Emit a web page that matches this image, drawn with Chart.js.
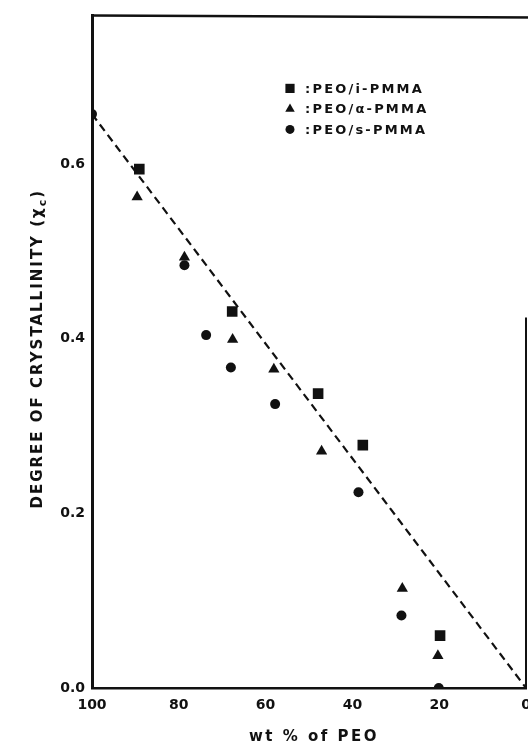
<!DOCTYPE html>
<html>
<head>
<meta charset="utf-8">
<script src="https://cdn.jsdelivr.net/npm/chart.js@4.4.1/dist/chart.umd.min.js"></script>
<style>
  html, body { margin: 0; padding: 0; background: #fff; overflow: hidden; }
  #wrap { position: relative; width: 560px; height: 744px; }
</style>
</head>
<body>
<div id="wrap"><canvas id="crystChart"></canvas></div>
<script>
// values (x = wt % of PEO, y = degree of crystallinity)
const isoX = [89.1, 67.7, 47.9, 37.6, 19.8];
const isoY = [0.594, 0.431, 0.337, 0.278, 0.060];
const ataX = [89.6, 78.7, 67.6, 58.1, 47.1, 28.5, 20.3];
const ataY = [0.562, 0.493, 0.399, 0.365, 0.271, 0.114, 0.037];
const synX = [100, 78.7, 73.7, 68.0, 57.8, 38.6, 28.7, 20.1];
const synY = [0.657, 0.484, 0.404, 0.367, 0.325, 0.224, 0.083, 0.0];
const lineX = [100, 0];
const lineY = [0.657, 0];
const xTicks = [100, 80, 60, 40, 20, 0];
const yTicks = [0, 0.2, 0.4, 0.6];
const seriesNames = ['PEO/i-PMMA', 'PEO/α-PMMA', 'PEO/s-PMMA'];

const FONT = "'DejaVu Sans', 'Liberation Sans', sans-serif";
const INK = '#111';

function toPoints(xs, ys) {
    return xs.map((x, i) => ({ x: x, y: ys[i] }));
}

// frame, legend and axis titles drawn on top of the chart
const extras = {
    id: 'extras',
    afterDraw(chart) {
        const ctx = chart.ctx;
        const area = chart.chartArea;
        ctx.save();
        ctx.strokeStyle = INK;
        ctx.fillStyle = INK;

        // top border and the right border (only its lower part shows in the scan)
        ctx.lineWidth = 2.5;
        ctx.beginPath();
        ctx.moveTo(area.left, area.top);
        ctx.lineTo(area.right + 10, area.top + 2);
        ctx.stroke();
        ctx.lineWidth = 2;
        ctx.beginPath();
        ctx.moveTo(area.right, area.top + 302);
        ctx.lineTo(area.right, area.bottom);
        ctx.stroke();

        // legend
        const styles = ['rect', 'triangle', 'circle'];
        const radii = [6.5, 5.5, 4.5];
        ctx.font = 'bold 13px ' + FONT;
        ctx.letterSpacing = '2.2px';
        ctx.textBaseline = 'middle';
        ctx.textAlign = 'left';
        seriesNames.forEach((name, i) => {
            const ly = area.top + 73 + i * 20.5;
            Chart.helpers.drawPoint(ctx, { pointStyle: styles[i], radius: radii[i], rotation: 0, borderWidth: 0 }, area.left + 198, ly);
            ctx.fillStyle = INK;
            ctx.fillText(':' + name, area.left + 213, ly + 1);
        });

        // x title
        ctx.font = 'bold 15px ' + FONT;
        ctx.letterSpacing = '2.5px';
        ctx.textAlign = 'center';
        ctx.fillText('wt % of PEO', (area.left + area.right) / 2 + 5, 737);

        // y title with subscript c
        ctx.translate(38, (area.top + area.bottom) / 2 - 3);
        ctx.rotate(-Math.PI / 2);
        ctx.textAlign = 'left';
        ctx.font = 'bold 15px ' + FONT;
        ctx.letterSpacing = '2px';
        const main = 'DEGREE OF CRYSTALLINITY (χ';
        const wMain = ctx.measureText(main).width;
        ctx.font = 'bold 11px ' + FONT;
        const wSub = ctx.measureText('c').width;
        ctx.font = 'bold 15px ' + FONT;
        const wEnd = ctx.measureText(')').width;
        let sx = -(wMain + wSub + wEnd) / 2;
        ctx.fillText(main, sx, 0);
        sx += wMain;
        ctx.font = 'bold 11px ' + FONT;
        ctx.fillText('c', sx, 5);
        sx += wSub;
        ctx.font = 'bold 15px ' + FONT;
        ctx.fillText(')', sx, 0);
        ctx.restore();
    }
};

const ctx = document.getElementById('crystChart').getContext('2d');
new Chart(ctx, {
    type: 'scatter',
    data: {
        datasets: [
            {
                label: 'fit',
                data: toPoints(lineX, lineY),
                showLine: true,
                borderColor: INK,
                borderWidth: 2.2,
                borderDash: [8, 5],
                pointRadius: 0
            },
            {
                label: seriesNames[0],
                data: toPoints(isoX, isoY),
                pointStyle: 'rect',
                pointRadius: 7.5,
                backgroundColor: INK,
                borderWidth: 0
            },
            {
                label: seriesNames[1],
                data: toPoints(ataX, ataY),
                pointStyle: 'triangle',
                pointRadius: 6.5,
                backgroundColor: INK,
                borderWidth: 0
            },
            {
                label: seriesNames[2],
                data: toPoints(synX, synY),
                pointStyle: 'circle',
                pointRadius: 5,
                backgroundColor: INK,
                borderWidth: 0
            }
        ]
    },
    options: {
        responsive: true,
        maintainAspectRatio: false,
        animation: false,
        layout: { padding: { top: 13, right: 34, left: 0, bottom: 0 } },
        plugins: {
            legend: { display: false },
            tooltip: { enabled: false }
        },
        scales: {
            x: {
                type: 'linear',
                reverse: true,
                min: 0,
                max: 100,
                afterBuildTicks: scale => { scale.ticks = xTicks.map(v => ({ value: v })); },
                afterFit: scale => { scale.height = 56; },
                grid: { display: false, drawTicks: false },
                border: { display: true, color: INK, width: 2.5 },
                ticks: {
                    padding: 9,
                    color: INK,
                    maxRotation: 0,
                    autoSkip: false,
                    font: { family: FONT, weight: 'bold', size: 14 }
                }
            },
            y: {
                type: 'linear',
                min: 0,
                max: 0.77,
                afterBuildTicks: scale => { scale.ticks = yTicks.map(v => ({ value: v })); },
                afterFit: scale => { scale.width = 92; },
                grid: { display: false, drawTicks: false },
                border: { display: true, color: INK, width: 3 },
                ticks: {
                    padding: 7,
                    color: INK,
                    font: { family: FONT, weight: 'bold', size: 14 },
                    callback: v => v.toFixed(1)
                }
            }
        }
    },
    plugins: [extras]
});
</script>
</body>
</html>
